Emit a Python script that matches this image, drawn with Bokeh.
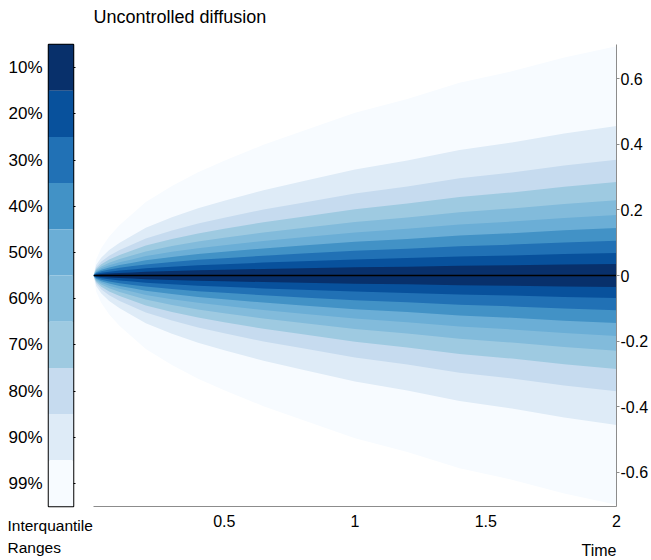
from bokeh.plotting import figure
from bokeh.layouts import row
from bokeh.models import Range1d, FixedTicker, LinearAxis, Title
from bokeh.embed import file_html
from bokeh.resources import INLINE

# ---- data ----
levels = ["10%", "20%", "30%", "40%", "50%", "60%", "70%", "80%", "90%", "99%"]
colors = ["#08306b", "#08519c", "#2171b5", "#4292c6", "#6baed6",
          "#82bbdb", "#9ecae1", "#c6dbef", "#deebf7", "#f7fbff"]
# half-width of each interquantile range at t = 2
halfwidth_end = [0.035, 0.069, 0.106, 0.145, 0.185, 0.230, 0.285, 0.353, 0.456, 0.700]
# time grid and relative spread of the fan (fraction of the end half-width)
times = [0.0, 0.01, 0.03, 0.06, 0.10, 0.15, 0.20, 0.30, 0.40, 0.50, 0.65,
         0.80, 1.00, 1.20, 1.40, 1.60, 1.80, 2.00]
spread = [0.0, 0.07, 0.12, 0.17, 0.22, 0.27, 0.32, 0.39, 0.45, 0.50, 0.57,
          0.63, 0.71, 0.77, 0.84, 0.89, 0.95, 1.00]
median = [0.0] * len(times)
x_ticks = [0.5, 1.0, 1.5, 2.0]
y_ticks = [-0.6, -0.4, -0.2, 0.0, 0.2, 0.4, 0.6]
y_tick_labels = ["-0.6", "-0.4", "-0.2", "0", "0.2", "0.4", "0.6"]

FONT = "Liberation Sans"
H = 560


def spacer(n):
    # blank (white, 1px) title used only to reserve vertical space in a side panel
    return Title(text=".", text_font_size="1px", text_color="white", standoff=n)


def text_title(txt, size, align="left", offset=0, standoff=0):
    return Title(text=txt, align=align, offset=offset, standoff=standoff,
                 text_font=FONT, text_font_size=size, text_font_style="normal",
                 text_color="black", text_line_height=1.0)


# ---- colour bar (left) ----
pa = figure(width=93, height=H, x_range=Range1d(0, 1), y_range=Range1d(len(levels), 0),
            toolbar_location=None, output_backend="svg", x_axis_location=None,
            y_axis_location="left",
            min_border_left=48, min_border_right=20, min_border_top=44, min_border_bottom=54)
idx = list(range(len(levels)))
pa.quad(left=0, right=1, top=idx, bottom=[i + 1 for i in idx], fill_color=colors,
        line_color=None)
pa.xgrid.visible = False
pa.ygrid.visible = False
centers = [i + 0.5 for i in idx]
pa.yaxis.ticker = FixedTicker(ticks=centers)
pa.yaxis.major_label_overrides = {c: lab for c, lab in zip(centers, levels)}
pa.yaxis.axis_line_color = None
pa.yaxis.major_tick_line_color = None
pa.yaxis.minor_tick_line_color = None
pa.yaxis.major_label_standoff = 0
pa.yaxis.major_label_text_font = FONT
pa.yaxis.major_label_text_font_size = "17px"
pa.yaxis.major_label_text_color = "black"
rax = LinearAxis(ticker=FixedTicker(ticks=centers))
rax.major_label_overrides = {c: "" for c in centers}
rax.axis_line_color = None
rax.major_tick_line_color = "black"
rax.major_tick_in = 0
rax.major_tick_out = 2
rax.minor_tick_line_color = None
pa.add_layout(rax, "right")
pa.outline_line_color = "black"
pa.outline_line_width = 1.5
pa.outline_line_alpha = 1.0
pa.background_fill_color = "white"
pa.border_fill_color = "white"
pa.add_layout(spacer(5), "below")
pa.add_layout(text_title("Interquantile", "15.5px", offset=-41), "below")
pa.add_layout(text_title("Ranges", "15.5px", offset=-41, standoff=7), "below")

# ---- fan chart (right) ----
pb = figure(width=558, height=H, x_range=Range1d(0, 2), y_range=Range1d(-0.705, 0.705),
            toolbar_location=None, output_backend="svg", y_axis_location="right",
            min_border_left=0, min_border_right=30, min_border_top=44, min_border_bottom=54)
for i in reversed(idx):
    upper = [halfwidth_end[i] * s for s in spread]
    lower = [-halfwidth_end[i] * s for s in spread]
    pb.varea(x=times, y1=lower, y2=upper, fill_color=colors[i])
pb.line(x=times, y=median, line_color="black", line_width=1.5)

pb.xgrid.visible = False
pb.ygrid.visible = False
pb.outline_line_color = None
pb.background_fill_color = "white"
pb.border_fill_color = "white"

pb.xaxis.ticker = FixedTicker(ticks=x_ticks)
pb.yaxis.ticker = FixedTicker(ticks=y_ticks)
pb.yaxis.major_label_overrides = {v: s for v, s in zip(y_ticks, y_tick_labels)}
for ax in (pb.xaxis[0], pb.yaxis[0]):
    ax.axis_line_color = "#8c8c8c"
    ax.axis_line_width = 1
    ax.major_tick_line_color = "#8c8c8c"
    ax.minor_tick_line_color = None
    ax.major_label_text_font = FONT
    ax.major_label_text_font_size = "16px"
    ax.major_label_text_color = "black"
    ax.axis_label_standoff = 0
pb.xaxis.major_tick_in = 0
pb.xaxis.major_tick_out = 0
pb.xaxis.major_label_standoff = 8
pb.yaxis.major_tick_in = 0
pb.yaxis.major_tick_out = 3
pb.yaxis.major_label_standoff = 1

pb.add_layout(spacer(15), "above")
pb.add_layout(text_title("Uncontrolled diffusion", "18px"), "above")

pb.add_layout(spacer(7), "below")
pb.add_layout(text_title("Time", "16px", align="right"), "below")

layout = row(pa, pb)
open("out.html", "w").write(file_html(layout, INLINE))
